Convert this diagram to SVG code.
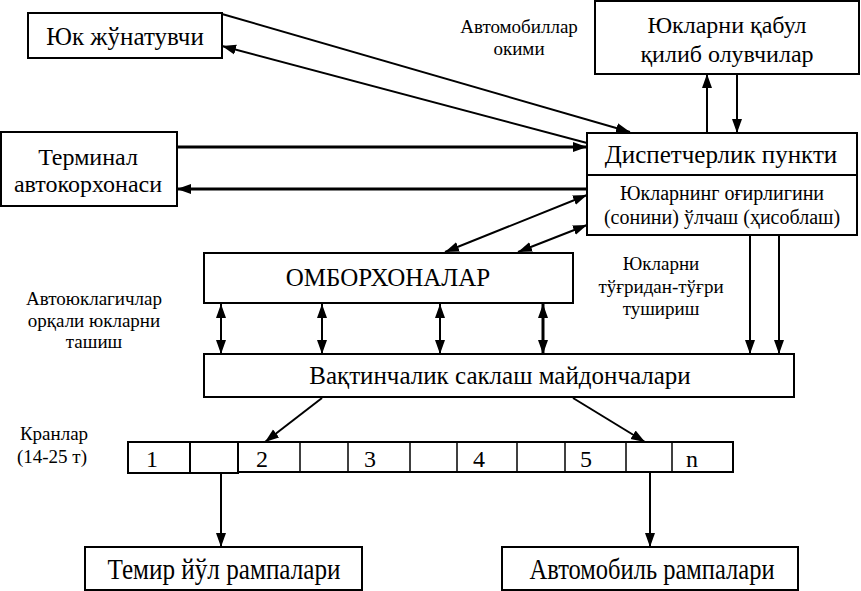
<svg xmlns="http://www.w3.org/2000/svg" width="861" height="591" viewBox="0 0 861 591">
<style>
.box{fill:#fff;stroke:#000;stroke-width:2}
text{font-family:"Liberation Serif","DejaVu Serif",serif;fill:#000;text-anchor:middle}
.t25{font-size:25px}
.t24{font-size:24px}
.t20{font-size:20px}
.t19{font-size:19px}
.c{stroke:#000;stroke-width:2;fill:none}
.c3{stroke:#000;stroke-width:3;fill:none}
.e{marker-end:url(#ah)}
.b{marker-end:url(#ah);marker-start:url(#ah)}
</style>
<defs>
<marker id="ah" markerUnits="userSpaceOnUse" markerWidth="16" markerHeight="12" refX="14" refY="5" orient="auto-start-reverse" viewBox="0 0 16 10">
<path d="M0,0 L14,5 L0,10 z" fill="#000"/>
</marker>
</defs>
<rect width="861" height="591" fill="#fff"/>

<g id="connectors">
<line class="c e" x1="222" y1="14" x2="630" y2="132"/>
<line class="c e" x1="587" y1="143" x2="222" y2="46"/>
<line class="c3 e" x1="177" y1="147" x2="587" y2="147"/>
<line class="c3 e" x1="587" y1="189" x2="177" y2="189"/>
<line class="c e" x1="707" y1="133" x2="707" y2="74"/>
<line class="c e" x1="737" y1="74" x2="737" y2="133"/>
<line class="c b" x1="587" y1="195" x2="445" y2="252"/>
<line class="c b" x1="587" y1="225" x2="518" y2="252"/>
<line class="c b" x1="221" y1="304" x2="221" y2="354"/>
<line class="c b" x1="322" y1="304" x2="322" y2="354"/>
<line class="c b" x1="440" y1="304" x2="440" y2="354"/>
<line class="c3 b" x1="543" y1="304" x2="543" y2="354"/>
<line class="c e" x1="750" y1="235" x2="750" y2="354"/>
<line class="c e" x1="779" y1="235" x2="779" y2="354"/>
<line class="c e" x1="322" y1="398" x2="265" y2="442"/>
<line class="c e" x1="573" y1="398" x2="645" y2="442"/>
<line class="c e" x1="221" y1="473" x2="221" y2="547"/>
<line class="c e" x1="650" y1="472" x2="650" y2="547"/>
</g>

<g id="yuk-jonatuvchi">
<rect class="box" x="28" y="13" width="194" height="45"/>
<text class="t25" x="125" y="45">Юк жўнатувчи</text>
</g>

<g id="terminal">
<rect class="box" x="1" y="132" width="176" height="74"/>
<text class="t24" x="88" y="165">Терминал</text>
<text class="t24" x="88" y="192">автокорхонаси</text>
</g>

<g id="avto-oqimi">
<text class="t19" x="519" y="33">Автомобиллар</text>
<text class="t19" x="519" y="55">окими</text>
</g>

<g id="qabul">
<rect class="box" x="595" y="1" width="264" height="73"/>
<text class="t24" x="727" y="33">Юкларни қабул</text>
<text class="t24" x="727" y="62">қилиб олувчилар</text>
</g>

<g id="dispetcher">
<rect class="box" x="587" y="133" width="270" height="42"/>
<text class="t25" x="721" y="163">Диспетчерлик пункти</text>
</g>

<g id="ogirlik">
<rect class="box" x="587" y="175" width="270" height="60"/>
<text class="t20" x="722" y="200">Юкларнинг оғирлигини</text>
<text class="t20" x="722" y="224">(сонини) ўлчаш (ҳисоблаш)</text>
</g>

<g id="omborxonalar">
<rect class="box" x="204" y="253" width="369" height="50"/>
<text class="t25" x="388" y="286">ОМБОРХОНАЛАР</text>
</g>

<g id="avtoyuklagich">
<text class="t19" x="94" y="305">Автоюклагичлар</text>
<text class="t19" x="94" y="327">орқали юкларни</text>
<text class="t19" x="94" y="348">ташиш</text>
</g>

<g id="togridan">
<text class="t19" x="661" y="270">Юкларни</text>
<text class="t19" x="661" y="293">тўғридан-тўғри</text>
<text class="t19" x="661" y="315">тушириш</text>
</g>

<g id="vaqtinchalik">
<rect class="box" x="204" y="354" width="590" height="43"/>
<text class="t25" x="500" y="384">Вақтинчалик саклаш майдончалари</text>
</g>

<g id="kranlar-label">
<text class="t19" x="54" y="440">Кранлар</text>
<text class="t19" x="52" y="463">(14-25 т)</text>
</g>

<g id="kranlar">
<rect class="box" x="128" y="442" width="110" height="31"/>
<line class="c" x1="190" y1="442" x2="190" y2="473"/>
<rect class="box" x="238" y="442" width="495" height="30"/>
<g stroke="#000" stroke-width="1.5">
<line x1="300" y1="442" x2="300" y2="472"/>
<line x1="348" y1="442" x2="348" y2="472"/>
<line x1="410" y1="442" x2="410" y2="472"/>
<line x1="457" y1="442" x2="457" y2="472"/>
<line x1="517" y1="442" x2="517" y2="472"/>
<line x1="565" y1="442" x2="565" y2="472"/>
<line x1="626" y1="442" x2="626" y2="472"/>
<line x1="672" y1="442" x2="672" y2="472"/>
</g>
<text class="t24" x="152" y="467">1</text>
<text class="t24" x="262" y="467">2</text>
<text class="t24" x="370" y="467">3</text>
<text class="t24" x="479" y="467">4</text>
<text class="t24" x="586" y="467">5</text>
<text class="t24" x="692" y="467">n</text>
</g>

<g id="temir-yol">
<rect class="box" x="85" y="547" width="277" height="43"/>
<text x="224" y="579" font-size="30" textLength="233" lengthAdjust="spacingAndGlyphs">Темир йўл рампалари</text>
</g>

<g id="avtomobil">
<rect class="box" x="502" y="547" width="296" height="43"/>
<text x="652" y="579" font-size="30" textLength="245" lengthAdjust="spacingAndGlyphs">Автомобиль рампалари</text>
</g>
</svg>
